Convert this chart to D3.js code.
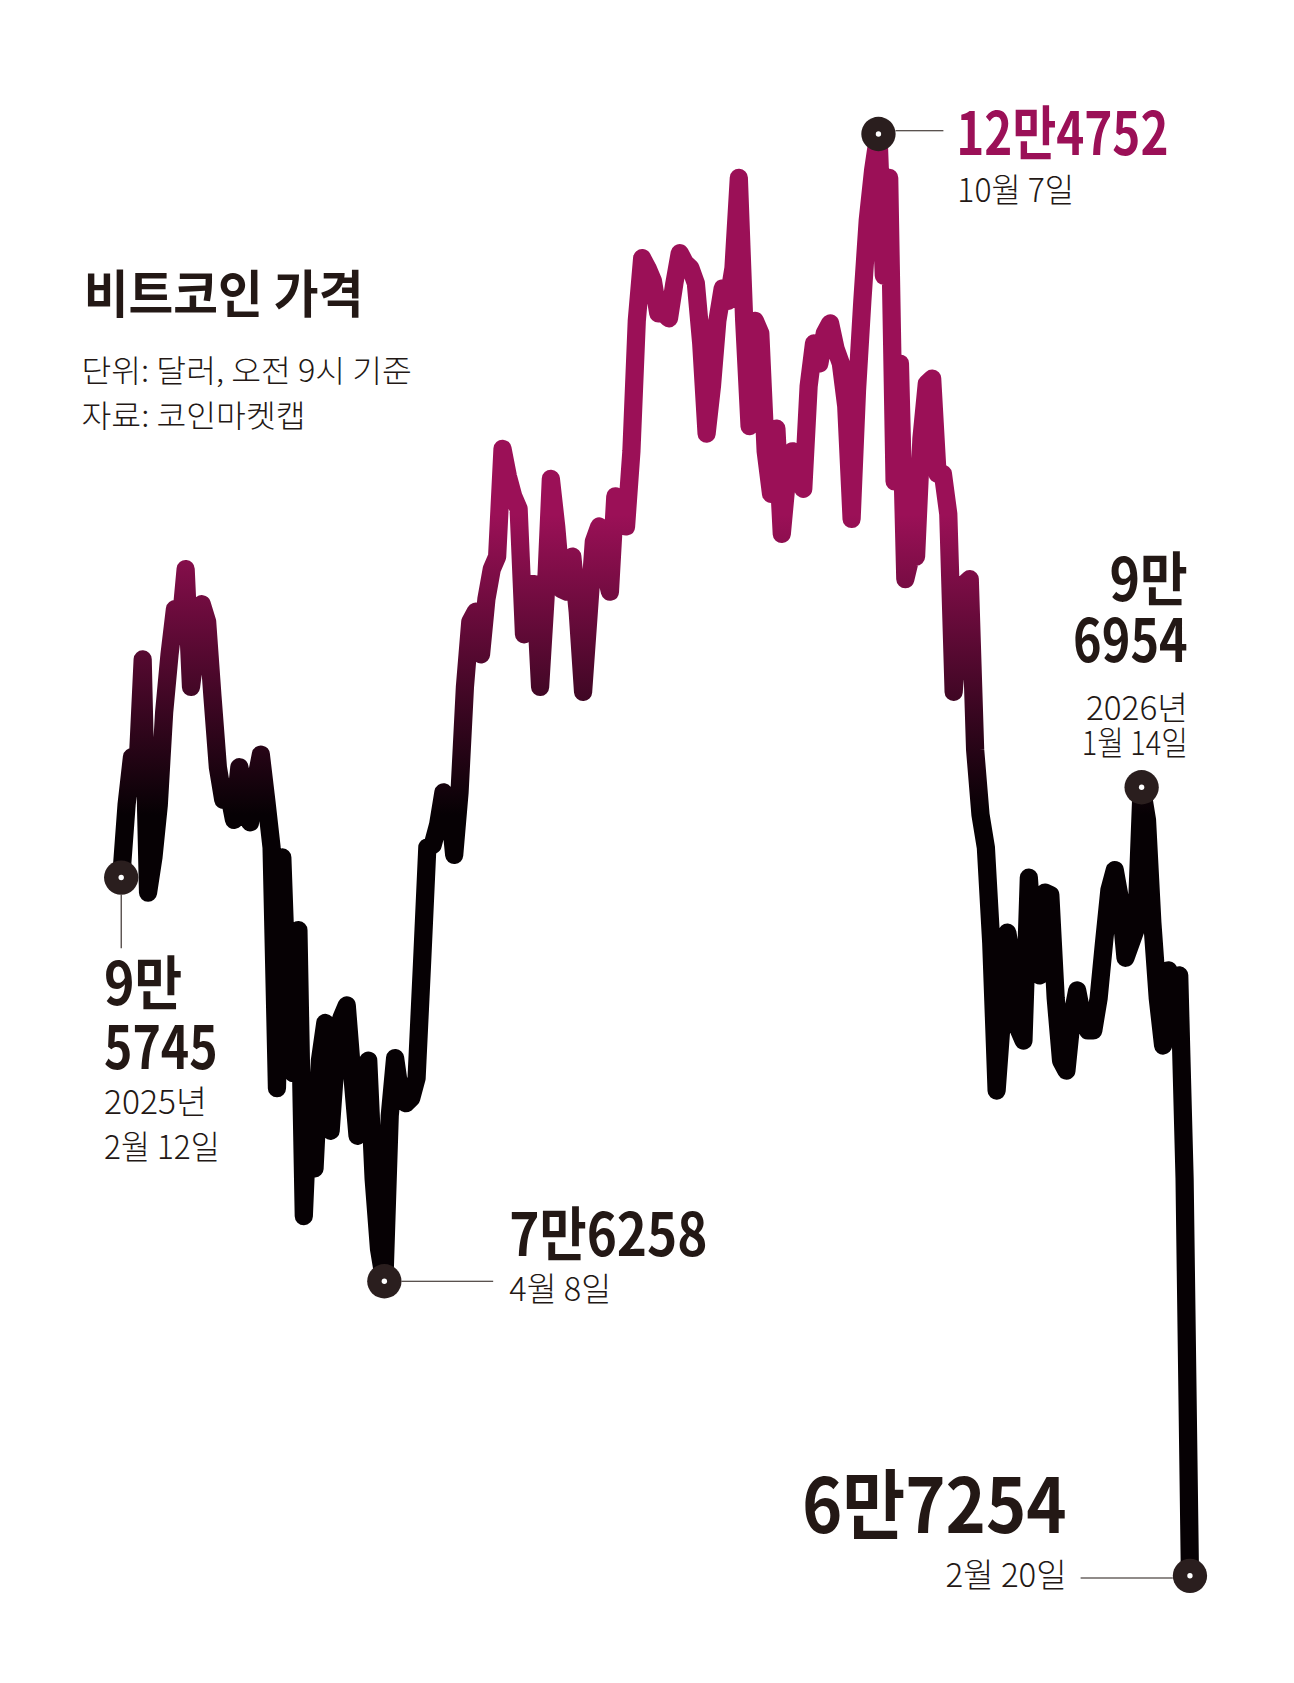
<!DOCTYPE html>
<html>
<head>
<meta charset="utf-8">
<script src="https://cdn.jsdelivr.net/npm/d3@7"></script>
<style>
body { margin: 0; background: #fff; }
text { font-family: "Noto Sans CJK KR", "Noto Sans", sans-serif; fill: #231815; }
</style>
</head>
<body>
<script>
// 비트코인 가격 (달러, 오전 9시 기준) - 그림에서 읽은 값
var prices = [
  95100, 98000, 99900, 99300, 103800, 94500, 95900, 98000, 101700, 104000,
  105800, 105100, 107400, 102700, 104400, 106000, 105300, 102300, 99500, 98200,
  98500, 97400, 99500, 98500, 97300, 98900, 100000, 98200, 96300, 86700,
  95900, 89900, 87300, 93000, 81600, 86500, 83500, 87800, 89300, 85000,
  88000, 89500, 90000, 87300, 84800, 87300, 87800, 83100, 80300, 79000,
  85600, 87900, 86400, 86100, 86300, 87100, 91600, 96300, 96400, 97200,
  98500, 98200, 96000, 98500, 102700, 105300, 105700, 104000, 106200, 107400,
  107900, 112200, 111100, 110300, 109800, 104800, 106800, 106800, 102700, 106200,
  111000, 109100, 106600, 106500, 107900, 105700, 102500, 105500, 108500, 109100,
  107400, 106500, 110300, 110000, 109100, 112100, 117300, 119800, 119400, 118900,
  117600, 117600, 117400, 118800, 120000, 119600, 119400, 118800, 116400, 112800,
  114700, 117300, 118600, 118100, 119400, 123000, 117300, 113100, 117300, 116800,
  112100, 110400, 113000, 108800, 111100, 112100, 111100, 110600, 114700, 116400,
  115600, 116800, 117200, 116200, 115600, 113900, 109400, 114500, 118100, 121300,
  123300, 124752, 119100, 123000, 110900, 115600, 107000, 107900, 107900, 112600,
  114800, 115000, 111200, 111200, 109600, 102500, 105300, 106800, 107000, 100200,
  97600, 96300, 92500, 86600, 89500, 92900, 91600, 89100, 88600, 95100,
  92000, 91200, 94500, 94400, 90300, 87800, 87400, 89500, 90600, 89500,
  89000, 89000, 90300, 92500, 94600, 95400, 94200, 91900, 92500, 93100,
  98700, 97400, 93300, 90300, 88400, 91400, 89300, 91200, 83100, 67254
];

// 표시한 지점 (시작, 최저, 최고, 1월 14일, 마지막)
var markIdx = [0, 49, 141, 190, 199];
var bigText = [['9만', '5745'], ['7만6258'], ['12만4752'], ['9만', '6954'], ['6만7254']];
var dateText = [['2025년', '2월 12일'], ['4월 8일'], ['10월 7일'], ['2026년', '1월 14일'], ['2월 20일']];

var titleText = '비트코인 가격';
var noteText = ['단위: 달러, 오전 9시 기준', '자료: 코인마켓캡'];

var magenta = '#9b1057',
    ink = '#231815';

var svg = d3.select('body')
    .append('svg')
    .attr('width', 1294)
    .attr('height', 1683)
    .attr('viewBox', '0 0 1207 1570');

var x = d3.scaleLinear()
    .domain([0, prices.length - 1])
    .range([113, 1110]);

var y = d3.scaleLinear()
    .domain([67254, 124752])
    .range([1470, 125]);

// 위는 자주색, 아래는 검정
var grad = svg.append('defs')
    .append('linearGradient')
    .attr('id', 'lineGrad')
    .attr('gradientUnits', 'userSpaceOnUse')
    .attr('x1', 0).attr('x2', 0)
    .attr('y1', 480).attr('y2', 760);
grad.append('stop').attr('offset', 0).attr('stop-color', magenta);
grad.append('stop').attr('offset', 1).attr('stop-color', '#060104');

var linea = d3.line()
    .x((d, i) => x(i))
    .y(d => y(d));

svg.append('path')
    .datum(prices)
    .attr('d', linea)
    .attr('fill', 'none')
    .attr('stroke', 'url(#lineGrad)')
    .attr('stroke-width', 17)
    .attr('stroke-linejoin', 'round')
    .attr('stroke-linecap', 'round');

// 여러 줄 글: 한 text 안에 tspan 으로
// lineas: [글, 기준선 y, 크기, 굵기, 폭]
function bloque(tx, anchor, lineas, color) {
    var t = svg.append('text')
        .attr('text-anchor', anchor)
        .style('fill', color || ink);
    lineas.forEach(l => {
        t.append('tspan')
            .attr('x', tx)
            .attr('y', l[1])
            .attr('font-size', l[2])
            .attr('font-weight', l[3])
            .attr('textLength', l[4])
            .attr('lengthAdjust', 'spacingAndGlyphs')
            .text(l[0]);
    });
    return t;
}

function guia(x1, y1, x2, y2) {
    svg.append('line')
        .attr('x1', x1).attr('y1', y1)
        .attr('x2', x2).attr('y2', y2)
        .attr('stroke', ink)
        .attr('stroke-width', 1);
}

// 제목
bloque(78, 'start', [[titleText, 292, 48, 700, 261]]);
bloque(76, 'start', [[noteText[0], 356, 29, 300, 308], [noteText[1], 398, 29, 300, 209]]);

var pts = markIdx.map(i => [x(i), y(prices[i])]);

// 시작점
var p = pts[0];
guia(p[0], p[1] + 16, p[0], p[1] + 66);
bloque(p[0] - 16, 'start', [
    [bigText[0][0], p[1] + 119, 55, 700, 73],
    [bigText[0][1], p[1] + 179, 55, 700, 106],
    [dateText[0][0], p[1] + 221, 31, 300, 96],
    [dateText[0][1], p[1] + 263, 31, 300, 108]
]);

// 최저
p = pts[1];
guia(p[0] + 16, p[1], 460, p[1]);
bloque(475, 'start', [
    [bigText[1][0], p[1] - 24, 55, 700, 185],
    [dateText[1][0], p[1] + 18, 31, 300, 95]
]);

// 최고
p = pts[2];
guia(p[0] + 16, p[1] - 3, 880, p[1] - 3);
bloque(892, 'start', [[bigText[2][0], p[1] + 20, 55, 700, 198]], magenta);
bloque(893, 'start', [[dateText[2][0], p[1] + 63, 31, 300, 109]]);

// 1월 14일
p = pts[3];
bloque(1108, 'end', [
    [bigText[3][0], p[1] - 174, 55, 700, 73],
    [bigText[3][1], p[1] - 117, 55, 700, 107],
    [dateText[3][0], p[1] - 63, 31, 300, 95],
    [dateText[3][1], p[1] - 30, 31, 300, 99]
]);

// 마지막
p = pts[4];
guia(1008, p[1] + 2, p[0] - 16, p[1] + 2);
bloque(995, 'end', [
    [bigText[4][0], p[1] - 40, 71, 700, 247],
    [dateText[4][0], p[1] + 10, 31, 300, 113]
]);

// 표시 원
svg.selectAll('.marca')
    .data(pts)
    .enter()
    .append('circle')
    .attr('class', 'marca')
    .attr('cx', d => d[0])
    .attr('cy', d => d[1])
    .attr('r', 16)
    .attr('fill', '#2a1e1e');

svg.selectAll('.punto')
    .data(pts)
    .enter()
    .append('circle')
    .attr('class', 'punto')
    .attr('cx', d => d[0])
    .attr('cy', d => d[1])
    .attr('r', 2.5)
    .attr('fill', '#fff');
</script>
</body>
</html>
